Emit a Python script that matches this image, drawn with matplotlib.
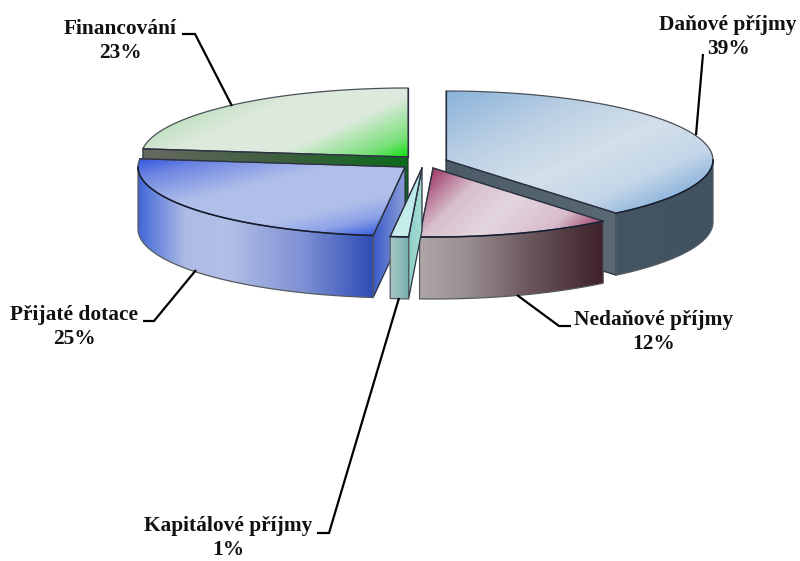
import numpy as np
import matplotlib
matplotlib.use("Agg")
import matplotlib.pyplot as plt
from matplotlib.colors import LinearSegmentedColormap
from matplotlib.patches import Polygon

categories = ["Daňové příjmy", "Nedaňové příjmy", "Kapitálové příjmy", "Přijaté dotace", "Financování"]
values = [39.0, 11.8, 1.1, 25.0, 23.1]
apex_x = [446, 433, 422, 405, 408]
apex_y = [160, 168, 168, 167, 157]
label_x = [728, 654, 228, 74, 120]
label_y = [37, 332, 538, 327, 41]
leader_lines = [
    [(696, 135), (703, 54)],
    [(517, 295), (559, 326), (571, 326)],
    [(399, 298), (329, 533), (317, 533)],
    [(196, 270), (154, 321), (143, 321)],
    [(232, 106), (195, 34), (182, 34)],
]
RX, RY, DEPTH = 267, 69, 62

fig = plt.figure(figsize=(8, 5.61), dpi=100)
ax = fig.add_axes([0, 0, 1, 1])
ax.axis("off")


def pt(i, theta, dy=0):
    t = np.radians(theta)
    return apex_x[i] + RX * np.sin(t), apex_y[i] - RY * np.cos(t) + dy


def arc(i, a, b, dy=0):
    th = np.linspace(a, b, 80)
    x, y = pt(i, th, dy)
    return list(zip(x, y))


def fill(verts, stops, direction, edge="#4a5058", lw=0.9, z=1):
    verts = np.array(verts)
    x0, y0 = verts.min(axis=0)
    x1, y1 = verts.max(axis=0)
    xx, yy = np.meshgrid(np.linspace(x0, x1, 300), np.linspace(y0, y1, 300))
    d = xx * direction[0] + yy * direction[1]
    proj = verts @ np.array(direction)
    t = np.clip((d - proj.min()) / (proj.max() - proj.min()), 0, 1)
    cmap = LinearSegmentedColormap.from_list("g", stops)
    im = ax.imshow(t, cmap=cmap, vmin=0, vmax=1, extent=(x0, x1, y1, y0),
                   aspect="auto", interpolation="bilinear", zorder=z)
    p = Polygon(verts, closed=True, facecolor="none", edgecolor=edge, lw=lw, zorder=z,
                joinstyle="round")
    ax.add_patch(p)
    im.set_clip_path(p)


cum = np.cumsum([0] + values)
ang = cum / cum[-1] * 360
starts, ends = ang[:-1], ang[1:]

top_style = [
    ([(0, "#8ab3da"), (.35, "#bcd0e4"), (.62, "#d4e0ea"), (.85, "#c4d6e8"), (1, "#92b8dd")], (1, 2.2)),
    ([(0, "#a03c6a"), (.25, "#d8bfcc"), (.5, "#e3d6de"), (.8, "#d8bccb"), (1, "#a0456c")], (1, 1)),
    ([(0, "#b8e8e6"), (1, "#c8eeec")], (0, 1)),
    ([(0, "#3558e0"), (.14, "#7087e2"), (.4, "#b0bfea"), (.72, "#b0bfea"), (.86, "#8ea3e8"), (1, "#3a5fe0")], (1, 4)),
    ([(0, "#0ee00e"), (.15, "#78e078"), (.45, "#dfeadf"), (.8, "#dde9dd"), (1, "#c4e2c4")], (-1, -2.2)),
]
wall_style = [
    [(0, "#40525f"), (1, "#445665")],
    [(0, "#3e2029"), (.4, "#6a565c"), (.75, "#9a8f92"), (1, "#aea5a7")],
    [(0, "#78b0ae"), (1, "#a8c6c6")],
    [(0, "#2d4eb5"), (.3, "#7f90d5"), (.62, "#b2bfe5"), (.8, "#aebce6"), (1, "#4468d8")],
    None,
]
face_style = {
    0: ("end", [(0, "#4b5b67"), (1, "#5a6a74")]),
    2: ("start", [(0, "#8ecfc6"), (1, "#a8ded8")]),
    3: ("start", [(0, "#3a5ac8"), (1, "#8d9ed8")]),
    4: ("start", [(0, "#666a60"), (.5, "#3f5f3f"), (1, "#0b6b1b")]),
}
draw_order = [4, 0, 3, 1, 2]

for z, i in enumerate(draw_order):
    a, b = starts[i], ends[i]
    base = 10 * (z + 1)
    if i in face_style:
        side, stops = face_style[i]
        th = a if side == "start" else b
        c = pt(i, th)
        apex = (apex_x[i], apex_y[i])
        q = [apex, c, (c[0], c[1] + DEPTH), (apex[0], apex[1] + DEPTH)]
        fill(q, stops, (1, 0), edge="#2a3040", z=base)
    wa, wb = max(a, 90), min(b, 270)
    if wall_style[i] is not None and wb > wa:
        q = arc(i, wa, wb) + arc(i, wb, wa, DEPTH)
        fill(q, wall_style[i], (-1, 0), edge="#555b60", z=base + 1)
    top = [(apex_x[i], apex_y[i])] + arc(i, a, b)
    fill(top, top_style[i][0], top_style[i][1], z=base + 2)
    if wb > wa:
        f = np.array(arc(i, wa, wb))
        ax.plot(f[:, 0], f[:, 1], color="#161c30", lw=1.1, zorder=base + 3)
    for th in (a, b):
        c = pt(i, th)
        ax.plot([apex_x[i], c[0]], [apex_y[i], c[1]], color="#2a3040", lw=0.9, zorder=base + 3)

for line in leader_lines:
    l = np.array(line)
    ax.plot(l[:, 0], l[:, 1], color="black", lw=1.6, zorder=100, solid_capstyle="butt",
            solid_joinstyle="miter")

for name, v, x, y in zip(categories, values, label_x, label_y):
    ax.text(x, y, f"{name}\n{round(v)}%", ha="center", va="center", family="Liberation Serif",
            weight="bold", fontsize=15.4, linespacing=1.3, zorder=101, color="#111111")

ax.set_xlim(0, 800)
ax.set_ylim(561, 0)
fig.savefig("out.png", dpi=100)
